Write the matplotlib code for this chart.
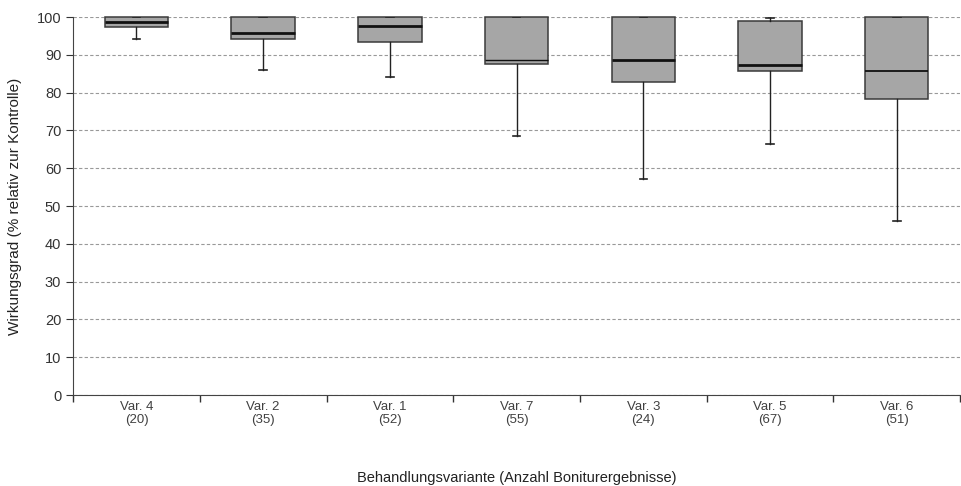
import matplotlib.pyplot as plt
import numpy as np

plt.rcParams['font.family'] = ['Liberation Sans', 'DejaVu Sans']

varianten = ["Var. 4", "Var. 2", "Var. 1", "Var. 7", "Var. 3", "Var. 5", "Var. 6"]
anzahl = [20, 35, 52, 55, 24, 67, 51]
whisker_low = [94.1, 86.1, 84.2, 68.4, 57.2, 66.3, 46.1]
q1 = [97.4, 94.3, 93.5, 87.5, 82.9, 85.8, 78.3]
median = [98.7, 95.8, 97.7, 88.6, 88.6, 87.3, 85.6]
q3 = [100, 100, 100, 100, 100, 98.9, 100]
whisker_high = [100, 100, 100, 100, 100, 99.7, 100]
median_lw = [2.0, 2.0, 2.0, 1.0, 2.0, 2.0, 1.3]

stats = []
for i in range(len(varianten)):
    stats.append({
        "whislo": whisker_low[i], "q1": q1[i], "med": median[i],
        "q3": q3[i], "whishi": whisker_high[i], "fliers": [],
    })

fig = plt.figure(figsize=(9.62, 4.86), dpi=100)
ax = fig.add_axes([0.076, 0.187, 0.922, 0.778])

pos = np.arange(len(varianten))
res = ax.bxp(stats, positions=pos, widths=0.5, patch_artist=True,
             showfliers=False, capwidths=0.06,
             boxprops=dict(facecolor="#a6a6a6", edgecolor="#3a3a3a", linewidth=1.1),
             whiskerprops=dict(color="#222222", linewidth=1.0),
             capprops=dict(color="#222222", linewidth=1.2),
             medianprops=dict(color="#111111"))
for line, lw in zip(res["medians"], median_lw):
    line.set_linewidth(lw)
for box in res["boxes"]:
    box.set_clip_on(False)

ax.set_ylim(0, 100)
ax.set_xlim(-0.5, len(varianten) - 0.5)
ax.set_yticks(np.arange(0, 101, 10))
ax.yaxis.grid(True, linestyle=(0, (3, 2)), color="#999999", linewidth=0.8)
ax.set_axisbelow(True)

ax.set_xticks(pos)
ax.set_xticklabels([f"{v}\n({n})" for v, n in zip(varianten, anzahl)],
                   color="#404040", fontsize=9.5, linespacing=1.2)
ax.set_xticks(np.arange(-0.5, len(varianten), 1), minor=True)
ax.tick_params(axis="x", which="major", length=0, pad=4)
ax.tick_params(axis="x", which="minor", length=5, direction="out", width=1,
               color="#333333")
ax.tick_params(axis="y", length=5, direction="out", labelsize=10.5,
               labelcolor="#333333", color="#333333")

for s in ["top", "right"]:
    ax.spines[s].set_visible(False)
ax.spines["left"].set_color("#444444")
ax.spines["bottom"].set_color("#444444")

ax.set_ylabel("Wirkungsgrad (% relativ zur Kontrolle)", fontsize=11,
              color="#222222")
ax.yaxis.set_label_coords(-0.058, 0.5)
ax.set_xlabel("Behandlungsvariante (Anzahl Boniturergebnisse)", fontsize=10.5,
              color="#222222")
ax.xaxis.set_label_coords(0.5, -0.2)

fig.savefig("out.png", dpi=100)
